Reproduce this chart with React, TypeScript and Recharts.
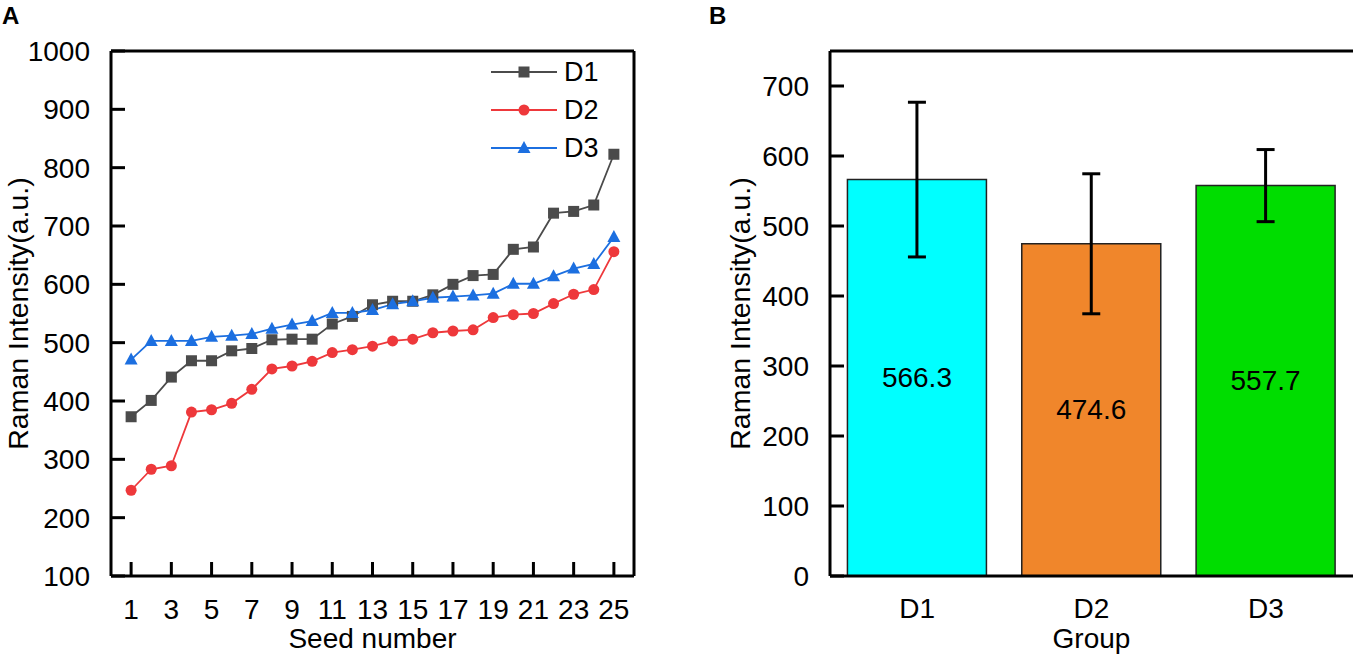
import React from "react";
import {
  Bar,
  BarChart,
  Cell,
  ErrorBar,
  LabelList,
  Line,
  LineChart,
  ReferenceLine,
  XAxis,
  YAxis,
} from "recharts";

// panel A data
const seeds = [1, 2, 3, 4, 5, 6, 7, 8, 9, 10, 11, 12, 13, 14, 15, 16, 17, 18, 19, 20, 21, 22, 23, 24, 25];
const d1Values = [373, 401, 441, 469, 469, 486, 490, 505, 506, 506, 532, 545, 565, 571, 571, 582, 600, 615, 617, 660, 664, 722, 725, 736, 823];
const d2Values = [247, 283, 289, 381, 385, 396, 420, 455, 460, 468, 483, 488, 494, 503, 506, 517, 520, 522, 543, 548, 550, 567, 583, 591, 656];
const d3Values = [471, 503, 503, 503, 510, 512, 515, 524, 531, 537, 551, 551, 556, 566, 571, 577, 579, 581, 584, 601, 601, 614, 627, 635, 681];
const seedTicks = [1, 3, 5, 7, 9, 11, 13, 15, 17, 19, 21, 23, 25];
const intensityTicksA = [100, 200, 300, 400, 500, 600, 700, 800, 900, 1000];
const seriesNames = ["D1", "D2", "D3"];

// panel B data
const groups = ["D1", "D2", "D3"];
const groupMeans = [566.3, 474.6, 557.7];
const groupSd = [110.5, 100, 51.5];
const intensityTicksB = [0, 100, 200, 300, 400, 500, 600, 700];

const FONT = "'Liberation Sans', Arial, sans-serif";
const GRAY = "#4b4b4b";
const RED = "#ee383b";
const BLUE = "#1c6fe0";
const seriesColors = [GRAY, RED, BLUE];
const barColors = ["#00ffff", "#f0862b", "#00dd00"];

const lineRows = seeds.map((s, i) => ({ seed: s, d1: d1Values[i], d2: d2Values[i], d3: d3Values[i] }));
const barRows = groups.map((g, i) => ({ group: g, mean: groupMeans[i], sd: groupSd[i] }));

const tickStyle = { fill: "#000", fontSize: 28, fontFamily: FONT };
const axisStroke = { stroke: "#000", strokeWidth: 3 };

const renderSquare = (p: any) => {
  if (p.cx == null || p.cy == null) return <g key={p.index} />;
  return <rect key={p.index} x={p.cx - 5.5} y={p.cy - 5.5} width={11} height={11} fill={GRAY} />;
};

const renderTriangle = (p: any) => {
  if (p.cx == null || p.cy == null) return <g key={p.index} />;
  const { cx, cy } = p;
  return <polygon key={p.index} points={`${cx},${cy - 7} ${cx - 6.5},${cy + 5} ${cx + 6.5},${cy + 5}`} fill={BLUE} />;
};

function VTitle({ tx, ty, text }: any) {
  return (
    <text x={tx} y={ty} transform={`rotate(-90 ${tx} ${ty})`} textAnchor="middle" fontSize={28.5} fontFamily={FONT} fill="#000">
      {text}
    </text>
  );
}

function HTitle({ tx, ty, text }: any) {
  return (
    <text x={tx} y={ty} textAnchor="middle" fontSize={28} fontFamily={FONT} fill="#000">
      {text}
    </text>
  );
}

function BarValue(props: any) {
  const { x, y, width, height, value } = props;
  return (
    <text x={x + width / 2} y={y + height / 2} textAnchor="middle" dominantBaseline="central" fontSize={28} fontFamily={FONT} fill="#000">
      {value}
    </text>
  );
}

// legend for panel A, drawn at its spot in the top right of the plot
function SeriesLegend({ left, top }: { left: number; top: number }) {
  return (
    <g transform={`translate(${left},${top})`}>
      {seriesNames.map((name, i) => {
        const y = i * 38;
        const c = seriesColors[i];
        return (
          <g key={name}>
            <line x1={0} x2={66} y1={y} y2={y} stroke={c} strokeWidth={1.8} />
            {i === 0 && <rect x={27.5} y={y - 5.5} width={11} height={11} fill={c} />}
            {i === 1 && <circle cx={33} cy={y} r={5.5} fill={c} />}
            {i === 2 && <polygon points={`33,${y - 7} 26.5,${y + 5} 39.5,${y + 5}`} fill={c} />}
            <text x={73} y={y} dominantBaseline="central" fontSize={27} fontFamily={FONT} fill="#000">
              {name}
            </text>
          </g>
        );
      })}
    </g>
  );
}

export default function App() {
  return (
    <div style={{ position: "absolute", left: 0, top: 0, width: 1358, height: 659, background: "#fff" }}>
      <div style={{ position: "absolute", left: 0, top: 0 }}>
        <LineChart width={660} height={659} data={lineRows} margin={{ top: 51, right: 26, left: 0, bottom: 0 }}>
          <XAxis
            type="number"
            dataKey="seed"
            domain={[0, 26]}
            ticks={seedTicks}
            interval={0}
            height={83}
            tickSize={-14}
            tickMargin={37}
            tick={tickStyle}
            axisLine={axisStroke}
            tickLine={axisStroke}
            label={<HTitle tx={372.5} ty={648} text="Seed number" />}
          />
          <YAxis
            type="number"
            domain={[100, 1000]}
            ticks={intensityTicksA}
            interval={0}
            width={111}
            tickSize={-14}
            tickMargin={35}
            tick={tickStyle}
            axisLine={axisStroke}
            tickLine={axisStroke}
            label={<VTitle tx={28} ty={313.5} text="Raman Intensity(a.u.)" />}
          />
          <ReferenceLine y={1000} stroke="#000" strokeWidth={3} />
          <ReferenceLine x={26} stroke="#000" strokeWidth={3} />
          <Line dataKey="d1" name="D1" stroke={GRAY} strokeWidth={1.8} dot={renderSquare} isAnimationActive={false} />
          <Line
            dataKey="d2"
            name="D2"
            stroke={RED}
            strokeWidth={1.8}
            dot={{ r: 5.5, fill: RED, stroke: RED, strokeWidth: 0 }}
            isAnimationActive={false}
          />
          <Line dataKey="d3" name="D3" stroke={BLUE} strokeWidth={1.8} dot={renderTriangle} isAnimationActive={false} />
        </LineChart>
      </div>

      <div style={{ position: "absolute", left: 700, top: 0 }}>
        <BarChart width={658} height={659} data={barRows} margin={{ top: 51, right: 5, left: 0, bottom: 0 }} barCategoryGap="10%">
          <XAxis
            dataKey="group"
            height={83}
            tickSize={0}
            tickMargin={22}
            tick={tickStyle}
            axisLine={axisStroke}
            tickLine={false}
            label={<HTitle tx={391.5} ty={648} text="Group" />}
          />
          <YAxis
            type="number"
            domain={[0, 750]}
            ticks={intensityTicksB}
            interval={0}
            width={130}
            tickSize={-14}
            tickMargin={35}
            tick={tickStyle}
            axisLine={axisStroke}
            tickLine={axisStroke}
            label={<VTitle tx={50} ty={313.5} text="Raman Intensity(a.u.)" />}
          />
          <YAxis yAxisId="right" orientation="right" width={0} tick={false} tickLine={false} axisLine={axisStroke} />
          <ReferenceLine y={750} stroke="#000" strokeWidth={3} />
          <Bar dataKey="mean" stroke="#222" strokeWidth={1.5} isAnimationActive={false}>
            {barRows.map((r, i) => (
              <Cell key={r.group} fill={barColors[i]} />
            ))}
            <ErrorBar dataKey="sd" width={9} strokeWidth={3} stroke="#000" direction="y" />
            <LabelList dataKey="mean" content={<BarValue />} />
          </Bar>
        </BarChart>
      </div>

      <svg width={1358} height={659} style={{ position: "absolute", left: 0, top: 0, pointerEvents: "none" }}>
        <text x={2} y={24} fontSize={24} fontWeight="bold" fontFamily={FONT} fill="#000">
          A
        </text>
        <text x={709} y={24} fontSize={24} fontWeight="bold" fontFamily={FONT} fill="#000">
          B
        </text>
        <SeriesLegend left={491} top={72} />
      </svg>
    </div>
  );
}
